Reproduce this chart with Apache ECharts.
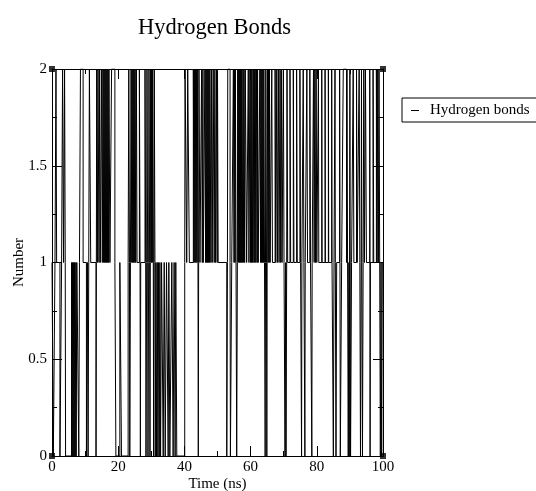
<!DOCTYPE html>
<html>
<head>
<meta charset="utf-8">
<script src="https://cdn.jsdelivr.net/npm/echarts@6/dist/echarts.min.js"></script>
<style>
  html, body { margin: 0; padding: 0; background: #fff; }
  #chart { width: 536px; height: 491px; }
</style>
</head>
<body>
<div id="chart"></div>
<script>
// Hydrogen-bond count over the trajectory: time (ns) at which the count changes,
// and the count held from that time until the next change.
const changeTimes = [
  0, 0.4, 0.9, 1.2, 1.4, 2.4, 2.9, 3.2, 3.5, 3.8, 4.0, 4.1,
  5.9, 6.1, 6.2, 6.4, 6.5, 6.7, 6.8, 7.0, 7.2, 7.3, 7.5,
  8.1, 8.3, 8.6, 9.4,
  10.4, 10.7, 10.9, 11.1, 11.3, 11.7,
  13.3, 13.4, 13.5, 13.7, 13.9, 14.2, 14.4, 14.6,
  15.0, 15.2, 15.4, 15.6, 15.7, 15.9, 16.0, 16.2, 16.3, 16.5, 16.6, 16.8, 16.9, 17.1, 17.2, 17.5,
  18.0, 19.0, 19.3,
  20.5, 21.0,
  23.0, 23.2, 23.4, 23.5, 23.7, 23.9, 24.1, 24.2, 24.4, 24.5, 24.7, 24.8, 25.0, 25.1, 25.3, 25.5, 25.7,
  26.4, 26.6, 26.7, 26.8,
  28.1, 28.3, 28.4, 28.6, 28.7, 28.9, 29.0, 29.2, 29.3, 29.5, 29.6, 29.7, 29.8, 30.0, 30.1, 30.3, 30.4, 30.6,
  30.7, 30.8, 30.9, 31.1, 31.2, 31.4, 31.6, 31.8, 32.0, 32.2, 32.4, 32.6, 32.8, 33.1, 33.6, 33.9, 34.2, 34.6,
  35.1, 35.3, 35.6, 36.2, 36.6, 36.9, 37.2, 37.4, 37.7,
  40.1, 40.2, 40.7, 41.0, 41.5,
  42.7, 42.9, 43.0, 43.2, 43.3, 43.5, 43.6, 43.8, 43.9, 44.1, 44.2, 44.3, 44.4, 44.7,
  45.2, 45.4, 45.6, 45.7,
  46.2, 46.4, 46.5, 46.7, 46.8, 47.0, 47.1, 47.3, 47.4, 47.6, 47.7, 48.0, 48.2, 48.4, 48.7, 49.0, 49.2, 49.4,
  49.7, 49.9, 50.0, 50.2,
  52.8, 53.0, 53.1, 53.8, 53.9, 54.3,
  54.8, 55.0, 55.1, 55.3, 55.4, 55.6, 55.8, 56.0, 56.1, 56.3, 56.4, 56.6, 56.7, 56.9, 57.0, 57.2, 57.3, 57.5,
  57.7, 57.9, 58.0, 58.2, 58.4, 58.8,
  59.3, 59.5, 59.8, 60.0, 60.1, 60.3, 60.4, 60.6, 60.8, 61.0, 61.1, 61.3, 61.4, 61.6, 61.8, 62.0, 62.1, 62.3,
  62.8, 63.0, 63.1, 63.3, 63.4, 63.6, 63.7, 63.9, 64.0, 64.2, 64.4, 64.5, 64.6, 64.8, 64.9, 65.0, 65.1, 65.3,
  65.4, 65.6, 65.7, 65.9,
  66.4, 66.6, 67.4, 67.6, 67.9, 68.1, 68.4, 68.6, 68.9, 69.1, 69.3, 69.5,
  69.9, 70.1, 70.4, 70.6, 70.7, 70.9, 71.0, 71.2,
  71.9, 72.1, 72.9, 73.1, 73.9, 74.1, 74.9, 75.1, 75.4, 75.5, 75.9, 76.1, 76.4, 76.5, 77.0, 77.2, 77.9, 78.1,
  78.5, 78.6, 79.0, 79.2, 79.4, 79.6, 79.8, 80.0,
  80.5, 80.6, 81.5, 81.6, 82.5, 82.6, 83.5, 83.6, 84.5, 84.6,
  85.0, 85.2, 85.5, 85.6, 85.8, 86.0,
  86.9, 87.0, 87.1, 87.5, 88.0, 89.0, 89.1, 89.5, 89.7, 89.8, 90.0, 90.2, 90.5,
  91.0, 91.2, 92.0, 92.2, 92.8, 93.0, 93.2, 93.4, 93.5, 93.6, 93.8, 94.0, 94.2, 94.4, 94.7, 95.0,
  96.0, 96.1, 96.2, 97.0, 97.2,
  98.0, 98.2, 98.4, 98.6, 98.8, 99.0, 99.2, 99.4, 99.6, 99.8, 100
];
const bondCounts = [
  1, 0, 1, 2, 1, 0, 1, 2, 1, 2, 1, 0,
  1, 0, 1, 0, 1, 0, 1, 0, 1, 0, 1,
  0, 1, 2, 1,
  0, 1, 0, 1, 2, 1,
  0, 1, 2, 1, 2, 1, 2, 1,
  2, 1, 2, 1, 2, 1, 2, 1, 2, 1, 2, 1, 2, 1, 2, 1,
  2, 1, 0,
  1, 0,
  1, 2, 1, 0, 1, 2, 1, 2, 1, 2, 1, 2, 1, 2, 1, 2, 1,
  2, 1, 0, 1,
  2, 1, 0, 1, 2, 1, 0, 1, 2, 1, 0, 1, 2, 1, 2, 1, 2, 1,
  0, 1, 2, 1, 0, 1, 0, 1, 0, 1, 0, 1, 0, 1, 0, 1, 0, 1,
  0, 1, 0, 1, 0, 1, 0, 1, 0,
  1, 2, 1, 2, 1,
  2, 1, 2, 1, 2, 1, 2, 1, 2, 1, 0, 1, 2, 1,
  2, 1, 2, 1,
  2, 1, 2, 1, 2, 1, 2, 1, 2, 1, 2, 1, 2, 1, 2, 1, 2, 1,
  2, 1, 2, 1,
  0, 1, 2, 1, 0, 1,
  2, 1, 2, 1, 2, 1, 0, 1, 2, 1, 2, 1, 2, 1, 2, 1, 2, 1,
  2, 1, 2, 1, 2, 1,
  2, 1, 2, 1, 2, 1, 2, 1, 2, 1, 2, 1, 2, 1, 2, 1, 2, 1,
  2, 1, 2, 1, 2, 1, 2, 1, 2, 1, 0, 1, 2, 1, 0, 1, 2, 1,
  2, 1, 2, 1,
  2, 1, 2, 1, 2, 1, 2, 1, 2, 1, 2, 1,
  2, 1, 0, 1, 0, 1, 2, 1,
  2, 1, 2, 1, 2, 1, 2, 1, 0, 1, 2, 1, 0, 1, 2, 1, 2, 1,
  0, 1, 2, 1, 2, 1, 2, 1,
  2, 1, 2, 1, 2, 1, 2, 1, 2, 1,
  0, 1, 2, 1, 0, 1,
  2, 1, 0, 1, 2, 1, 2, 0, 1, 0, 2, 0, 1,
  2, 1, 2, 1, 2, 1, 0, 1, 2, 1, 0, 1, 2, 1, 2, 1,
  2, 0, 1, 2, 1,
  2, 1, 2, 1, 2, 1, 0, 1, 0, 1, 1
];

// Axis ticks and labels
const xTicks = [0, 20, 40, 60, 80, 100];
const yTicks = [0, 0.5, 1, 1.5, 2];
// Small square markers sitting on the four corners of the frame
const frameCorners = [[0, 0], [0, 2], [100, 0], [100, 2]];

const serif = '"Liberation Serif", "DejaVu Serif", serif';
const trace = changeTimes.map((t, i) => [t, bondCounts[i]]);

const chart = echarts.init(document.getElementById('chart'), null, { renderer: 'canvas' });

const tickCommon = {
  axisLine: { show: true, onZero: false, lineStyle: { color: '#000', width: 1 } },
  axisTick: { show: true, inside: true, length: 10, lineStyle: { color: '#000' } },
  minorTick: { show: true, splitNumber: 2, length: 5, lineStyle: { color: '#000' } },
  splitLine: { show: false },
  minorSplitLine: { show: false }
};

chart.setOption({
  animation: false,
  backgroundColor: '#fff',
  title: {
    text: 'Hydrogen Bonds',
    left: 133,
    top: 12,
    textStyle: { fontFamily: serif, fontSize: 22.5, fontWeight: 'normal', color: '#000' }
  },
  legend: {
    data: ['Hydrogen bonds'],
    left: 402,
    top: 98,
    icon: 'rect',
    itemWidth: 8,
    itemHeight: 1,
    padding: [5, 20, 4, 9],
    borderColor: '#000',
    borderWidth: 1,
    textStyle: { fontFamily: serif, fontSize: 15, color: '#000', padding: [0, 0, 0, 6] }
  },
  grid: {
    left: 52, top: 69, width: 331, height: 387,
    containLabel: false,
    outerBoundsMode: 'none'
  },
  xAxis: [
    Object.assign({
      type: 'value', min: xTicks[0], max: xTicks[xTicks.length - 1], interval: 20,
      position: 'bottom',
      name: 'Time (ns)', nameLocation: 'middle', nameGap: 21, nameMoveOverlap: false,
      nameTextStyle: { fontFamily: serif, fontSize: 15, color: '#000' },
      axisLabel: { fontFamily: serif, fontSize: 15, color: '#000', margin: 4 }
    }, tickCommon),
    Object.assign({
      type: 'value', min: xTicks[0], max: xTicks[xTicks.length - 1], interval: 20,
      position: 'top', axisLabel: { show: false }
    }, tickCommon)
  ],
  yAxis: [
    Object.assign({
      type: 'value', min: yTicks[0], max: yTicks[yTicks.length - 1], interval: 0.5,
      position: 'left',
      name: 'Number', nameLocation: 'middle', nameGap: 25, nameRotate: 90, nameMoveOverlap: false,
      nameTextStyle: { fontFamily: serif, fontSize: 15, color: '#000' },
      axisLabel: { fontFamily: serif, fontSize: 15, color: '#000', margin: 5 }
    }, tickCommon),
    Object.assign({
      type: 'value', min: yTicks[0], max: yTicks[yTicks.length - 1], interval: 0.5,
      position: 'right', axisLabel: { show: false }
    }, tickCommon)
  ],
  series: [
    {
      name: 'Hydrogen bonds',
      type: 'line',
      step: 'end',
      xAxisIndex: 0,
      yAxisIndex: 0,
      data: trace,
      showSymbol: false,
      symbol: 'none',
      lineStyle: { color: '#000', width: 1 },
      itemStyle: { color: '#000' }
    },
    {
      name: 'corners',
      type: 'scatter',
      xAxisIndex: 0,
      yAxisIndex: 0,
      data: frameCorners,
      symbol: 'rect',
      symbolSize: 6,
      clip: false,
      silent: true,
      itemStyle: { color: '#000' }
    }
  ]
});
</script>
</body>
</html>
